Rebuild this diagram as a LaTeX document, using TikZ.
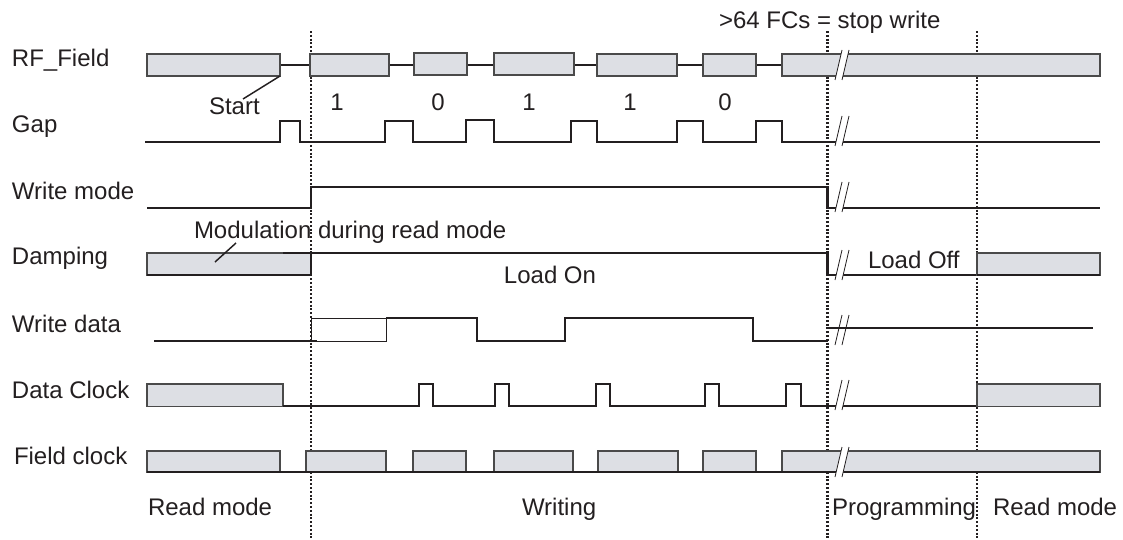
\documentclass[tikz,border=0pt]{standalone}
\usepackage{fontspec}
\setmainfont{Liberation Sans}
\definecolor{ink}{HTML}{231F20}
\definecolor{boxfill}{HTML}{DDDFE4}
\definecolor{boxedge}{HTML}{4A4A4A}
\tikzset{
  sig/.style={draw=ink,line width=1.6pt,line cap=butt,line join=miter},
  thinsig/.style={draw=ink,line width=0.65pt},
  wire/.style={draw=ink,line width=1.1pt},
  bar/.style={fill=boxfill,draw=boxedge,line width=0.9pt},
  phase/.style={draw=ink,line width=1.6pt,dash pattern=on 1.5pt off 1.35pt},
  lbl/.style={anchor=base west,inner sep=0pt,outer sep=0pt,text=ink,font=\fontsize{18pt}{20pt}\selectfont},
  ctr/.style={anchor=base,inner sep=0pt,outer sep=0pt,text=ink,font=\fontsize{18pt}{20pt}\selectfont},
  leader/.style={draw=ink,line width=1.1pt},
  slash/.style={draw=ink,line width=0.6pt},
}
\newcommand{\brk}[2]{%
  \fill[white] (835,#2) -- (842,#1) -- (849,#1) -- (842,#2) -- cycle;
  \draw[slash] (835,#2) -- (842,#1);
  \draw[slash] (842,#2) -- (849,#1);
}
\begin{document}
\begin{tikzpicture}[x=0.75pt,y=-0.75pt]
\useasboundingbox (0,0) rectangle (1123,539);
% phase boundaries
\draw[phase] (311,31) -- (311,539);
\draw[phase] (827.5,31) -- (827.5,539);
\draw[phase] (977,31) -- (977,539);

% labels
\node[lbl] (lrf) at (12,66.5) {RF\_Field};
\node[lbl] (lgap) at (12,132.5) {Gap};
\node[lbl] (lwm) at (12,199.5) {Write mode};
\node[lbl] (ldmp) at (12,264.5) {Damping};
\node[lbl] (lwd) at (12,332.5) {Write data};
\node[lbl] (ldc) at (12,398.5) {Data Clock};
\node[lbl] (lfc) at (14,464.5) {Field clock};
\node[lbl] (pread) at (148,515.5) {Read mode};
\node[lbl] (pwrite) at (522,515.5) {Writing};
\node[lbl] (pprog) at (832,515.5) {Programming};
\node[lbl] (pread2) at (993,515.5) {Read mode};
\node[lbl] (stopw) at (719,28) {>64 FCs = stop write};
\node[lbl] (start) at (209,114.5) {Start};
\node[ctr] (b1) at (337,110) {1};
\node[ctr] (b2) at (438,110) {0};
\node[ctr] (b3) at (529,110) {1};
\node[ctr] (b4) at (630,110) {1};
\node[ctr] (b5) at (725,110) {0};
\node[lbl] (modl) at (194,238.5) {Modulation during read mode};
\node[ctr] (lon) at (550,283) {Load On};
\node[lbl] (loff) at (868,268) {Load Off};

% RF_Field
\draw[wire] (280,65) -- (310,65) (389,65) -- (414,65) (467,65) -- (494,65) (574,65) -- (597,65) (677,65) -- (703,65) (756,65) -- (782,65);
\draw[bar] (147,54) rectangle (280,76);
\draw[bar] (310,54) rectangle (389,76);
\draw[bar] (414,53) rectangle (467,75);
\draw[bar] (494,53) rectangle (574,75);
\draw[bar] (597,54) rectangle (677,76);
\draw[bar] (703,54) rectangle (756,76);
\draw[bar] (782,54) rectangle (1100,76);
\brk{50}{80}
\coordinate (startgap) at (280,76);
\coordinate (startend) at (243,99);
\draw[leader] (startgap) -- (startend);

% Gap
\draw[sig] (145,142) -- (280,142) -- (280,121) -- (300,121) -- (300,142) -- (385,142) -- (385,121) -- (413,121) -- (413,142)
  -- (466,142) -- (466,120) -- (494,120) -- (494,142) -- (571,142) -- (571,121) -- (597,121) -- (597,142)
  -- (677,142) -- (677,121) -- (703,121) -- (703,142) -- (756,142) -- (756,121) -- (782,121) -- (782,142) -- (1100,142);
\brk{116}{146}

% Write mode
\draw[sig] (147,208) -- (311,208) -- (311,187) -- (827.5,187) -- (827.5,208) -- (1100,208);
\brk{182}{212}

% Damping
\draw[bar] (147,253) rectangle (311,275);
\draw[sig] (147,275) -- (311,275) -- (311,253);
\draw[sig] (283,253) -- (827.5,253) -- (827.5,275) -- (977,275);
\draw[bar] (977,253) rectangle (1100,275);
\draw[sig] (977,275) -- (1100,275);
\brk{250}{280}
\coordinate (modstart) at (236,243);
\coordinate (modend) at (215,262);
\draw[leader] (modstart) -- (modend);

% Write data
\brk{315}{345}
\draw[thinsig] (311,341) -- (311,318) -- (386,318) -- (386,341) -- (317,341);
\draw[sig] (154,341) -- (317,341);
\draw[sig] (386,318) -- (477,318) -- (477,341) -- (565,341) -- (565,318) -- (753,318) -- (753,341) -- (827.5,341);
\draw[sig] (827.5,328) -- (1093,328);

% Data Clock
\draw[bar] (147,384) rectangle (283,406.5);
\draw[sig] (283,406) -- (419,406) -- (419,384) -- (433,384) -- (433,406) -- (495,406) -- (495,384) -- (509,384) -- (509,406)
  -- (596,406) -- (596,384) -- (610,384) -- (610,406) -- (705,406) -- (705,384) -- (719,384) -- (719,406)
  -- (786,406) -- (786,384) -- (801,384) -- (801,406) -- (977,406);
\draw[bar] (977,384) rectangle (1100,406.5);
\brk{380}{410}

% Field clock
\draw[bar] (147,451) rectangle (280,472);
\draw[bar] (306,451) rectangle (386,472);
\draw[bar] (413,451) rectangle (466,472);
\draw[bar] (494,451) rectangle (573,472);
\draw[bar] (598,451) rectangle (678,472);
\draw[bar] (703,451) rectangle (756,472);
\draw[bar] (782,451) rectangle (1100,472);
\draw[sig] (147,472) -- (1100,472);
\brk{447}{477}
\end{tikzpicture}
\end{document}
